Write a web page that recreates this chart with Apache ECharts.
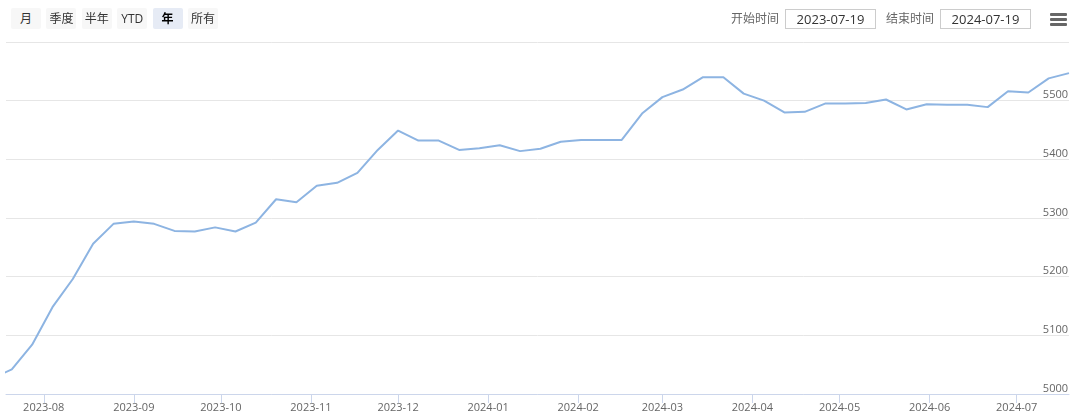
<!DOCTYPE html>
<html>
<head>
<meta charset="utf-8">
<script src="https://cdn.jsdelivr.net/npm/echarts@6/dist/echarts.min.js"></script>
<style>
  html, body { margin: 0; padding: 0; background: #fff; }
  #wrap { position: relative; width: 1080px; height: 420px; overflow: hidden; font-family: "Open Sans", "Noto Sans CJK SC", sans-serif; }
  #chart { position: absolute; left: 0; top: 0; width: 1080px; height: 420px; }
  .btn { position: absolute; top: 8px; height: 21px; width: 30px; line-height: 21px; text-align: center;
         background: #f7f7f7; color: #333; font-size: 12px; border-radius: 2px; }
  .btn.sel { background: #e6ebf5; font-weight: bold; color: #000; }
  .lbl { position: absolute; top: 9px; height: 20px; line-height: 20px; color: #666; font-size: 12px; }
  .inp { position: absolute; top: 9px; height: 18px; width: 89px; line-height: 18px; border: 1px solid #ccc;
         text-align: center; color: #333; font-size: 13px; }
  .bar { position: absolute; left: 1050px; width: 17px; height: 3px; background: #666; border-radius: 1px; }
</style>
</head>
<body>
<div id="wrap">
  <div id="chart"></div>
  <div id="ui"></div>
</div>
<script>
// ---- data ----
const dates = [
  '2023-07-14','2023-07-21','2023-07-28','2023-08-04','2023-08-11','2023-08-18','2023-08-25',
  '2023-09-01','2023-09-08','2023-09-15','2023-09-22','2023-09-29','2023-10-06','2023-10-13',
  '2023-10-20','2023-10-27','2023-11-03','2023-11-10','2023-11-17','2023-11-24','2023-12-01',
  '2023-12-08','2023-12-15','2023-12-22','2023-12-29','2024-01-05','2024-01-12','2024-01-19',
  '2024-01-26','2024-02-02','2024-02-09','2024-02-16','2024-02-23','2024-03-01','2024-03-08',
  '2024-03-15','2024-03-22','2024-03-29','2024-04-05','2024-04-12','2024-04-19','2024-04-26',
  '2024-05-03','2024-05-10','2024-05-17','2024-05-24','2024-05-31','2024-06-07','2024-06-14',
  '2024-06-21','2024-06-28','2024-07-05','2024-07-12','2024-07-19'
];
const values = [
  5026, 5042, 5084, 5148, 5196, 5256, 5290,
  5294, 5290, 5278, 5277, 5284, 5277, 5292,
  5332, 5327, 5355, 5360, 5377, 5416, 5449,
  5432, 5432, 5416, 5419, 5424, 5414, 5418,
  5430, 5433, 5433, 5433, 5478, 5506, 5519,
  5540, 5540, 5512, 5500, 5480, 5481, 5495,
  5495, 5496, 5502, 5485, 5494, 5493, 5493,
  5489, 5516, 5514, 5538, 5547
];
const xTickLabels = [
  '2023-08-01','2023-09-01','2023-10-01','2023-11-01','2023-12-01','2024-01-01',
  '2024-02-01','2024-03-01','2024-04-01','2024-05-01','2024-06-01','2024-07-01'
];
const rangeStart = '2023-07-19';
const rangeEnd = '2024-07-19';
const rangeButtons = ['月', '季度', '半年', 'YTD', '年', '所有'];
const selectedButton = '年';
const yMin = 5000, yMax = 5600, yStep = 100;

// ---- UI (range selector) ----
const ui = document.getElementById('ui');
rangeButtons.forEach((t, i) => {
  const d = document.createElement('div');
  d.className = 'btn' + (t === selectedButton ? ' sel' : '');
  d.style.left = (11 + i * 35.4) + 'px';
  d.textContent = t;
  ui.appendChild(d);
});
function addEl(cls, left, text) {
  const d = document.createElement('div');
  d.className = cls; d.style.left = left + 'px'; d.textContent = text; ui.appendChild(d);
}
addEl('lbl', 731, '开始时间');
addEl('inp', 785, rangeStart);
addEl('lbl', 886, '结束时间');
addEl('inp', 940, rangeEnd);
[13, 18, 23].forEach(t => { const b = document.createElement('div'); b.className = 'bar'; b.style.top = t + 'px'; ui.appendChild(b); });

// ---- chart ----
const parse = s => { const p = s.split('-').map(Number); return Date.UTC(p[0], p[1] - 1, p[2]); };
const tickVals = xTickLabels.map(parse);
const tickText = {};
xTickLabels.forEach(s => { tickText[parse(s)] = s.slice(0, 7); });
const seriesData = dates.map((d, i) => [parse(d), values[i]]);

const chart = echarts.init(document.getElementById('chart'), null, { renderer: 'canvas' });
chart.setOption({
  animation: false,
  backgroundColor: '#fff',
  grid: { left: 6, right: 11, top: 42, bottom: 26, containLabel: false },
  xAxis: {
    type: 'value',
    min: parse(rangeStart),
    max: parse(rangeEnd),
    axisLine: { show: true, lineStyle: { color: '#ccd6eb', width: 1 } },
    axisTick: { show: true, length: 9, lineStyle: { color: '#ccd6eb' }, customValues: tickVals },
    axisLabel: { color: '#666', fontSize: 11, margin: 8, fontFamily: 'Open Sans', customValues: tickVals,
                 formatter: v => tickText[v] || '' },
    splitLine: { show: false }
  },
  yAxis: {
    type: 'value',
    position: 'right',
    min: yMin, max: yMax, interval: yStep,
    axisLine: { show: false },
    axisTick: { show: false },
    axisLabel: { inside: true, verticalAlign: 'bottom', margin: 1, color: '#666', fontSize: 11, fontFamily: 'Open Sans',
                 showMaxLabel: false, formatter: v => String(v) },
    splitLine: { show: true, lineStyle: { color: '#e6e6e6', width: 1 } }
  },
  series: [{
    type: 'line',
    data: seriesData,
    showSymbol: false,
    symbol: 'none',
    clip: true,
    lineStyle: { color: '#8db4e2', width: 2 },
    itemStyle: { color: '#8db4e2' }
  }]
});
</script>
</body>
</html>
